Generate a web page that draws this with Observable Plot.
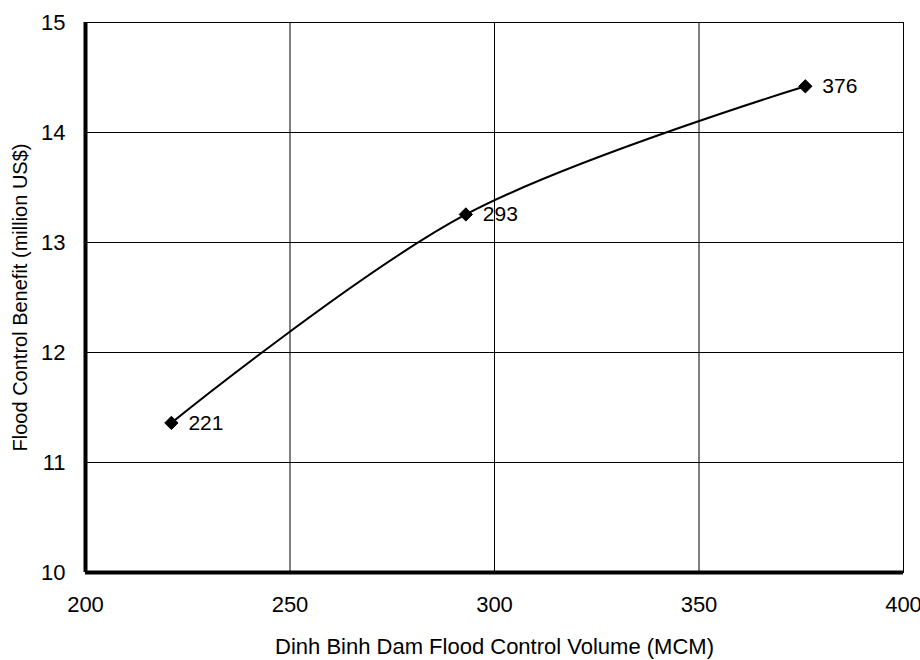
<!DOCTYPE html>
<html>
<head>
<meta charset="utf-8">
<script src="https://cdn.jsdelivr.net/npm/d3@7"></script>
<script src="https://cdn.jsdelivr.net/npm/@observablehq/plot@0.6"></script>
<style>
  html, body { margin: 0; padding: 0; background: #fff; }
  #chart { width: 920px; height: 660px; }
</style>
</head>
<body>
<div id="chart"></div>
<script>
const volumes = [221, 293, 376];
const benefits = [11.36, 13.255, 14.42];
const pointLabels = ["221", "293", "376"];
const xTicks = [200, 250, 300, 350, 400];
const yTicks = [10, 11, 12, 13, 14, 15];
const xTitle = "Dinh Binh Dam Flood Control Volume (MCM)";
const yTitle = "Flood Control Benefit (million US$)";

const data = volumes.map((v, i) => ({x: v, y: benefits[i], label: pointLabels[i]}));

const chart = Plot.plot({
  width: 920,
  height: 660,
  marginLeft: 85,
  marginRight: 17,
  marginTop: 22,
  marginBottom: 88,
  style: {fontFamily: "'Liberation Sans', Arial, sans-serif", fontSize: "20px", background: "#fff", color: "#000"},
  x: {domain: [200, 400]},
  y: {domain: [10, 15]},
  marks: [
    Plot.gridX(xTicks, {stroke: "#000", strokeOpacity: 1, strokeWidth: 1}),
    Plot.gridY(yTicks, {stroke: "#000", strokeOpacity: 1, strokeWidth: 1}),
    Plot.frame({stroke: "#000", strokeWidth: 1}),
    Plot.ruleX([200], {stroke: "#000", strokeWidth: 4}),
    Plot.ruleY([10], {stroke: "#000", strokeWidth: 4}),
    Plot.axisX(xTicks, {tickSize: 0, tickPadding: 24, fontSize: 22, tickFormat: "d", label: null}),
    Plot.text([xTitle], {frameAnchor: "bottom", dy: 81, lineAnchor: "bottom", fontSize: 22, fill: "#000"}),
    Plot.axisY(yTicks, {tickSize: 0, tickPadding: 20, fontSize: 22, tickFormat: "d", label: null}),
    Plot.axisY(yTicks, {tickSize: 0, tickPadding: 20, fontSize: 20, tickFormat: () => "", label: yTitle, labelAnchor: "center", labelArrow: "none", labelOffset: 73}),
    Plot.line(data, {x: "x", y: "y", curve: "catmull-rom", stroke: "#000", strokeWidth: 2}),
    Plot.dot(data, {x: "x", y: "y", symbol: "diamond2", r: 6, fill: "#000", stroke: "#000", strokeWidth: 1}),
    Plot.text(data, {x: "x", y: "y", text: "label", dx: 17, textAnchor: "start", fontSize: 21, fill: "#000"})
  ]
});
document.getElementById("chart").appendChild(chart);
</script>
</body>
</html>
